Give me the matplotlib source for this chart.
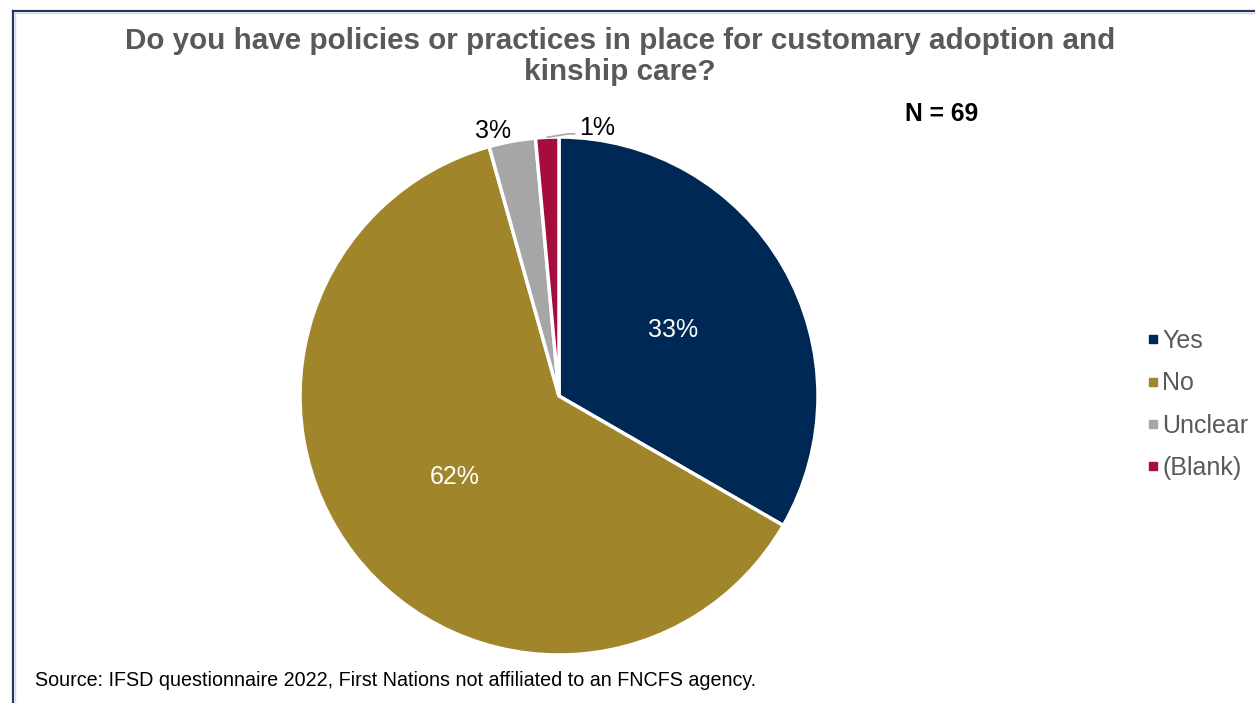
import matplotlib.pyplot as plt
from matplotlib.lines import Line2D
import numpy as np

plt.rcParams['font.family'] = ['Liberation Sans', 'DejaVu Sans']

labels = ['Yes', 'No', 'Unclear', '(Blank)']
counts = [23, 43, 2, 1]
colors = ['#002855', '#A0852A', '#A6A6A6', '#A50D3C']
n_total = 69

W, H = 1255, 703
fig = plt.figure(figsize=(W / 100, H / 100), dpi=100)

# pie centre and radius in pixels
cx, cy, r = 559, 396, 259
ax = fig.add_axes([(cx - r) / W, 1 - (cy + r) / H, 2 * r / W, 2 * r / H])

wedges, texts, autotexts = ax.pie(
    counts, colors=colors, startangle=90, counterclock=False,
    autopct=lambda p: f'{p:.0f}%', pctdistance=0.51,
    wedgeprops=dict(edgecolor='white', linewidth=2.5),
    textprops=dict(fontsize=18, color='white'))
ax.set_xlim(-1, 1)
ax.set_ylim(-1, 1)
ax.set_aspect('equal')

# small slices get their labels outside
autotexts[2].set_position((1.055 * np.cos(np.radians(104)), 1.055 * np.sin(np.radians(104))))
autotexts[2].set_color('black')
autotexts[3].set_position((1.045 * np.cos(np.radians(82)), 1.045 * np.sin(np.radians(82))))
autotexts[3].set_color('black')
# leader line for the 1% label
th = np.radians((wedges[3].theta1 + wedges[3].theta2) / 2)
ax.plot([np.cos(th) * 1.0, 0.035, 0.06], [np.sin(th) * 1.0, 1.012, 1.012],
        color='#A6A6A6', lw=1.2, clip_on=False)

fig.text(0.494, 1 - 27 / H,
         'Do you have policies or practices in place for customary adoption and\nkinship care?',
         ha='center', va='top', fontsize=21.3, fontweight='bold', color='#595959',
         linespacing=1.12)
fig.text(905 / W, 1 - 114 / H, f'N = {n_total}', ha='left', va='center',
         fontsize=17.7, fontweight='bold', color='black')
fig.text(35 / W, 1 - 680 / H,
         'Source: IFSD questionnaire 2022, First Nations not affiliated to an FNCFS agency.',
         ha='left', va='center', fontsize=14.2, color='black')

handles = [Line2D([], [], marker='s', linestyle='none', markersize=5.5,
                  markerfacecolor=c, markeredgecolor=c) for c in colors]
fig.legend(handles, labels, loc='center left', bbox_to_anchor=(1149.5 / W, 1 - 404.5 / H),
           frameon=False, fontsize=18, handlelength=0.3, handletextpad=0.2,
           borderpad=0, borderaxespad=0, labelspacing=0.73, labelcolor='#595959')

# chart frame (left and top edges visible)
fig.add_artist(Line2D([12.5 / W, 12.5 / W], [0, 1 - 11 / H], color='#1F3864', lw=1.6))
fig.add_artist(Line2D([12.5 / W, 1], [1 - 11 / H, 1 - 11 / H], color='#1F3864', lw=1.6))
fig.add_artist(Line2D([14.5 / W, 14.5 / W], [0, 1 - 13 / H], color='#D9D9D9', lw=1))
fig.add_artist(Line2D([14.5 / W, 1], [1 - 13 / H, 1 - 13 / H], color='#D9D9D9', lw=1))

fig.savefig('out.png', dpi=100)
